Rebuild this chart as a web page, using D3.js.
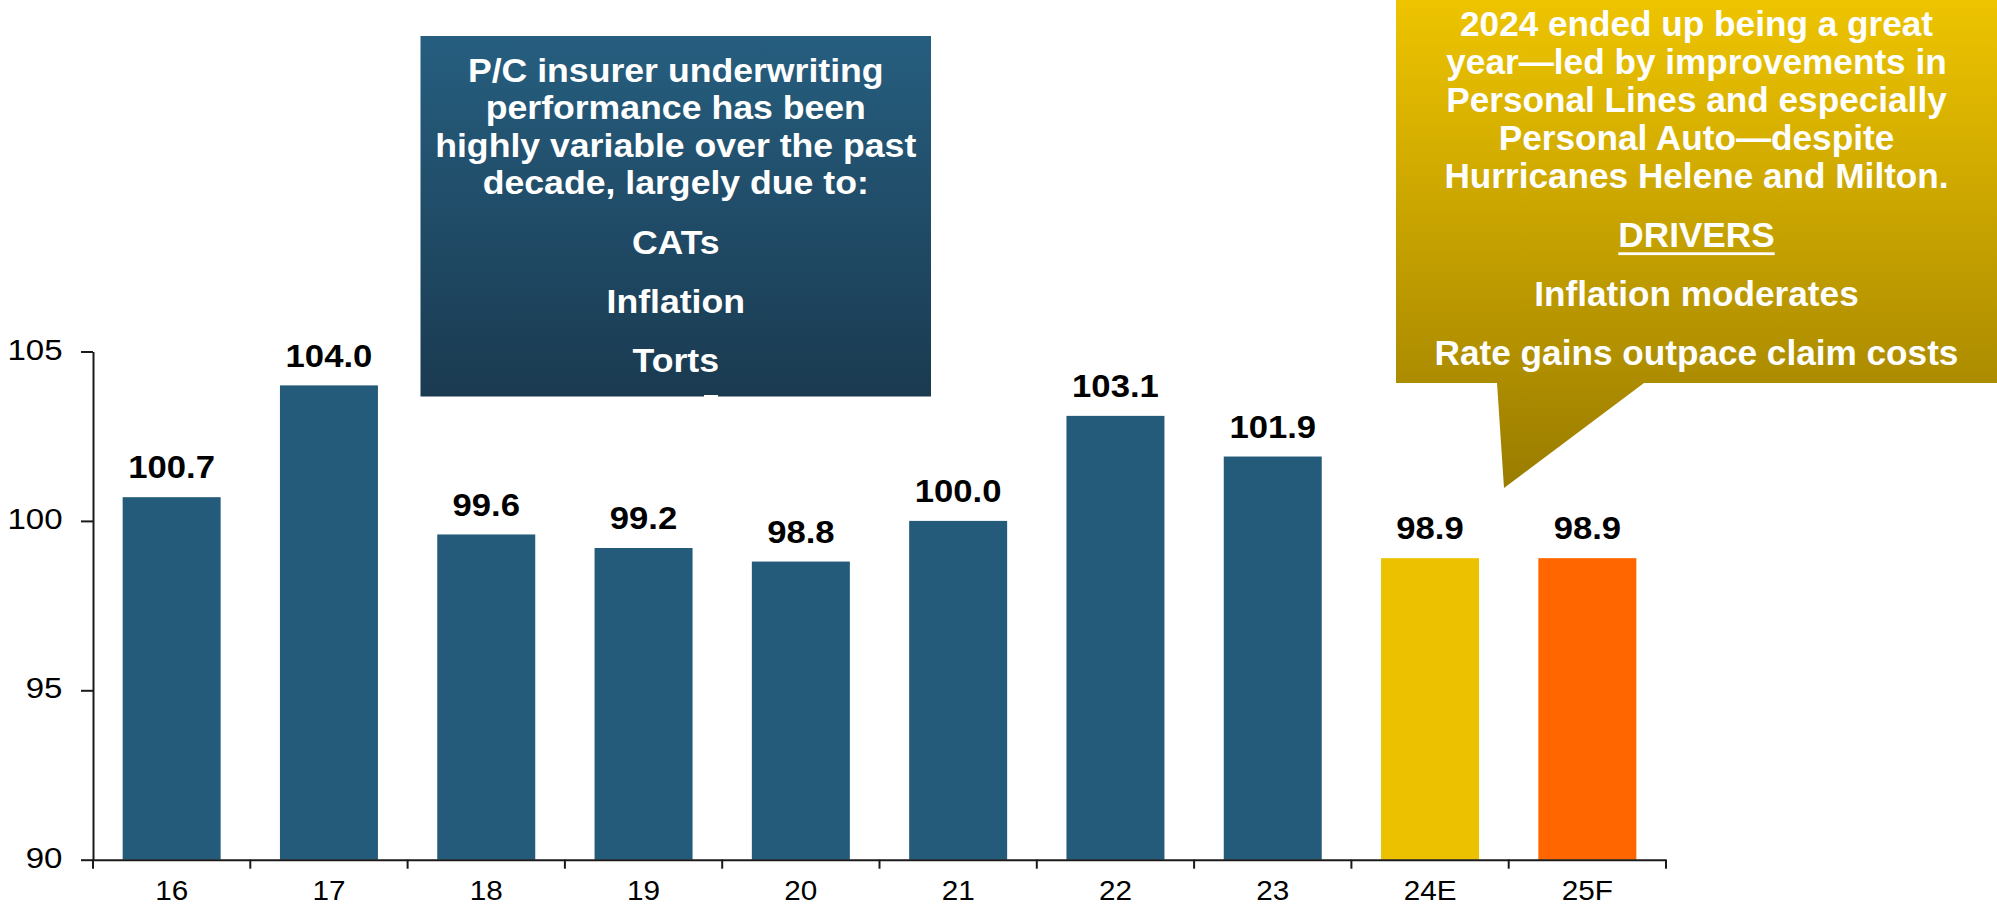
<!DOCTYPE html>
<html>
<head>
<meta charset="utf-8">
<script src="https://cdn.jsdelivr.net/npm/d3@7"></script>
<style>
  html, body { margin: 0; padding: 0; background: #fff; }
  svg { display: block; font-family: "Liberation Sans", Arial, Helvetica, sans-serif; }
</style>
</head>
<body>
<svg id="chart" width="1997" height="915"></svg>
<script>
// Combined ratio by year (E = estimate, F = forecast)
const categories = ["16", "17", "18", "19", "20", "21", "22", "23", "24E", "25F"];
const combinedRatio = [100.7, 104.0, 99.6, 99.2, 98.8, 100.0, 103.1, 101.9, 98.9, 98.9];
const yTicks = [90, 95, 100, 105];

// Callout texts
const leftNoteLines = [
  "P/C insurer underwriting",
  "performance has been",
  "highly variable over the past",
  "decade, largely due to:"
];
const leftNoteItems = ["CATs", "Inflation", "Torts"];
const rightNoteLines = [
  "2024 ended up being a great",
  "year\u2014led by improvements in",
  "Personal Lines and especially",
  "Personal Auto\u2014despite",
  "Hurricanes Helene and Milton."
];
const rightNoteHeading = "DRIVERS";
const rightNoteItems = ["Inflation moderates", "Rate gains outpace claim costs"];

// ---- styling ----
const BLUE = "#245b7a";
const barFill = { "24E": "#ecc200", "25F": "#ff6600" };
const AXIS = "#1a1a1a";

const svg = d3.select("#chart");
const W = 1997, H = 915;
svg.append("rect").attr("width", W).attr("height", H).attr("fill", "#fff");

const plot = { left: 93, right: 1666, top: 351.5, bottom: 859.7 };

const x = d3.scaleBand()
  .domain(categories)
  .range([plot.left, plot.right])
  .paddingInner(0.377)
  .paddingOuter(0.1885);

const y = d3.scaleLinear()
  .domain([90, 105])
  .range([plot.bottom, plot.top]);

// text drawn with a slight horizontal stretch
function stretchedText(parent, px, py, str, o) {
  return parent.append("text")
    .attr("transform", `translate(${px},${py}) scale(${o.sx},1)`)
    .attr("text-anchor", o.anchor || "middle")
    .attr("font-size", o.size)
    .attr("font-weight", o.weight || "normal")
    .attr("fill", o.fill || "#000")
    .text(str);
}

// ---- gradients ----
const defs = svg.append("defs");
const gBlue = defs.append("linearGradient").attr("id", "noteBlue")
  .attr("x1", 0).attr("y1", 0).attr("x2", 0).attr("y2", 1);
gBlue.append("stop").attr("offset", "0%").attr("stop-color", "#265e7f");
gBlue.append("stop").attr("offset", "100%").attr("stop-color", "#1a3a50");

const gGold = defs.append("linearGradient").attr("id", "noteGold")
  .attr("gradientUnits", "userSpaceOnUse")
  .attr("x1", 0).attr("y1", 0).attr("x2", 0).attr("y2", 488);
gGold.append("stop").attr("offset", "0%").attr("stop-color", "#eec400");
gGold.append("stop").attr("offset", "100%").attr("stop-color", "#9a7c00");

// ---- bars ----
svg.append("g").selectAll("rect")
  .data(categories)
  .join("rect")
  .attr("x", d => x(d))
  .attr("width", x.bandwidth())
  .attr("y", (d, i) => y(combinedRatio[i]))
  .attr("height", (d, i) => y(90) - y(combinedRatio[i]))
  .attr("fill", d => barFill[d] || BLUE);

// ---- value labels ----
const fmt = d3.format(".1f");
const valG = svg.append("g");
categories.forEach((c, i) => {
  stretchedText(valG, x(c) + x.bandwidth() / 2, y(combinedRatio[i]) - 18.7, fmt(combinedRatio[i]),
    { size: 31.5, sx: 1.1, weight: "bold" });
});

// ---- y axis ----
const ySx = 1.12;
const yAxis = svg.append("g")
  .attr("transform", `translate(${plot.left},0)`)
  .call(d3.axisLeft(y).tickValues(yTicks).tickSize(12).tickSizeOuter(0));
yAxis.select(".domain").attr("stroke", AXIS).attr("stroke-width", 2);
yAxis.selectAll(".tick line").attr("stroke", AXIS).attr("stroke-width", 2);
yAxis.selectAll(".tick text")
  .attr("x", -30.5 / ySx)
  .attr("dy", "0.26em")
  .attr("transform", `scale(${ySx},1)`)
  .attr("font-size", 29.5)
  .attr("font-family", null)
  .attr("fill", "#000");

// ---- x axis ----
const xSx = 1.08;
const xAxis = svg.append("g")
  .attr("transform", `translate(0,${plot.bottom})`)
  .call(d3.axisBottom(x).tickSize(0).tickSizeOuter(0));
xAxis.select(".domain").attr("stroke", AXIS).attr("stroke-width", 2);
xAxis.selectAll(".tick text")
  .attr("x", 0)
  .attr("y", 40.3)
  .attr("dy", 0)
  .attr("transform", `scale(${xSx},1)`)
  .attr("font-size", 27.5)
  .attr("font-family", null)
  .attr("fill", "#000");
// boundary ticks between categories
const boundaries = d3.range(categories.length + 1)
  .map(i => plot.left + i * x.step());
xAxis.selectAll("line.sep")
  .data(boundaries)
  .join("line")
  .attr("class", "sep")
  .attr("x1", d => d).attr("x2", d => d)
  .attr("y1", 0).attr("y2", 9)
  .attr("stroke", AXIS).attr("stroke-width", 2);

// ---- left callout ----
const leftBox = { x0: 420.5, x1: 931, y0: 36, y1: 396.5 };
const leftG = svg.append("g");
leftG.append("rect")
  .attr("x", leftBox.x0).attr("y", leftBox.y0)
  .attr("width", leftBox.x1 - leftBox.x0).attr("height", leftBox.y1 - leftBox.y0)
  .attr("fill", "url(#noteBlue)");
leftG.append("rect")
  .attr("x", 704).attr("y", 395).attr("width", 14).attr("height", 2.5)
  .attr("fill", "#fff");
const leftCx = (leftBox.x0 + leftBox.x1) / 2;
const lOpt = { size: 33, sx: 1.08, weight: "bold", fill: "#fff" };
leftNoteLines.forEach((s, i) => {
  stretchedText(leftG, leftCx, 82 + i * 37.4, s, lOpt);
});
leftNoteItems.forEach((s, i) => {
  stretchedText(leftG, leftCx, 253.5 + i * 59.2, s, lOpt);
});

// ---- right callout (speech bubble) ----
const rb = { x0: 1396, x1: W, y0: 0, y1: 383 };
const rightG = svg.append("g");
const bubble = d3.path();
bubble.moveTo(rb.x0, rb.y0);
bubble.lineTo(rb.x1, rb.y0);
bubble.lineTo(rb.x1, rb.y1);
bubble.lineTo(1644, rb.y1);
bubble.lineTo(1504, 488);
bubble.lineTo(1497, rb.y1);
bubble.lineTo(rb.x0, rb.y1);
bubble.closePath();
rightG.append("path").attr("d", bubble.toString()).attr("fill", "url(#noteGold)");

const rightCx = (rb.x0 + rb.x1) / 2;
const rOpt = { size: 34.5, sx: 1.02, weight: "bold", fill: "#fff" };
rightNoteLines.forEach((s, i) => {
  stretchedText(rightG, rightCx, 36 + i * 38.1, s, rOpt);
});
const head = stretchedText(rightG, rightCx, 246.7, rightNoteHeading, rOpt);
const hw = head.node().getComputedTextLength() * rOpt.sx;
rightG.append("rect")
  .attr("x", rightCx - hw / 2).attr("y", 252.3)
  .attr("width", hw).attr("height", 2.8)
  .attr("fill", "#fff");
rightNoteItems.forEach((s, i) => {
  stretchedText(rightG, rightCx, 306 + i * 59, s, rOpt);
});
</script>
</body>
</html>
